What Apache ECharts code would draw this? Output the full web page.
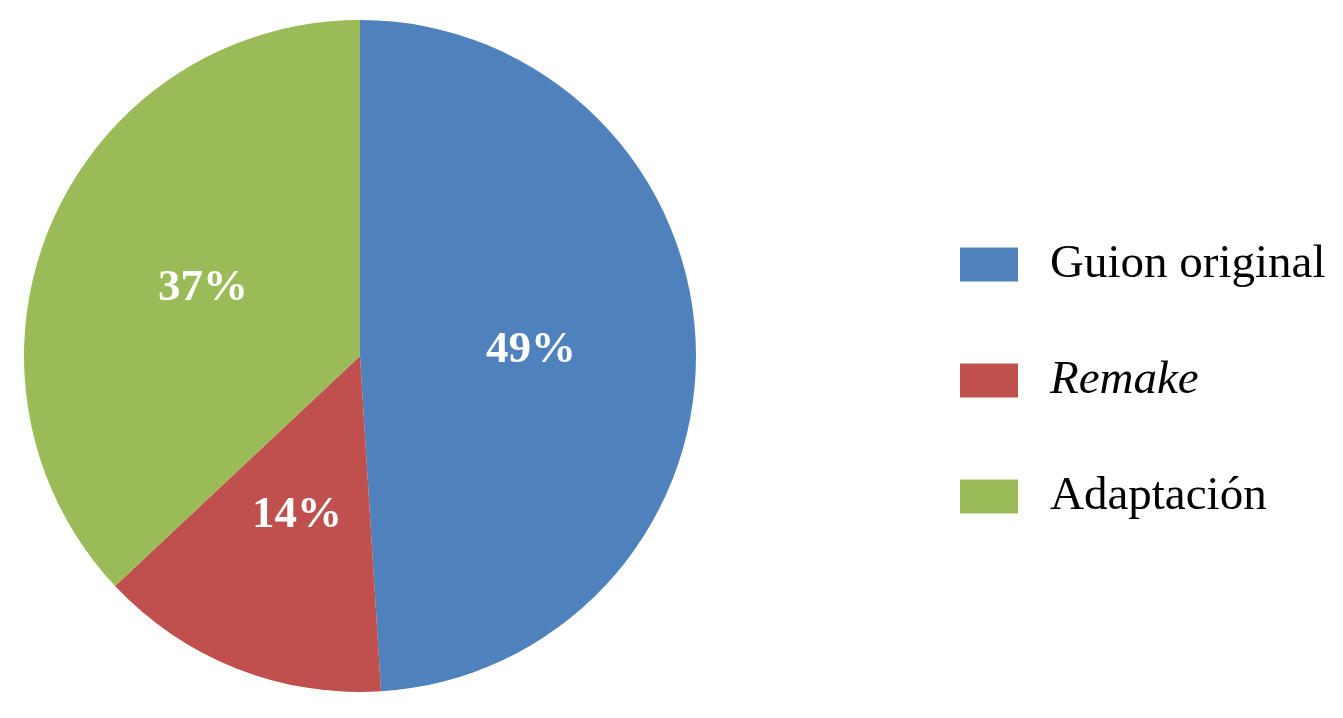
<!DOCTYPE html>
<html>
<head>
<meta charset="utf-8">
<script src="https://cdn.jsdelivr.net/npm/echarts@6/dist/echarts.min.js"></script>
<style>
  html, body { margin: 0; padding: 0; background: #fff; }
  #chart { width: 1343px; height: 718px; }
</style>
</head>
<body>
<div id="chart"></div>
<script>
  const categories = ['Guion original', 'Remake', 'Adaptación'];
  const shares = [49, 14, 37]; // %
  const colors = ['#4F81BD', '#C0504D', '#9BBB59'];

  const chart = echarts.init(document.getElementById('chart'));

  const option = {
    animation: false,
    color: colors,
    legend: {
      orient: 'vertical',
      left: 955,
      top: 236,
      itemWidth: 58,
      itemHeight: 34,
      itemGap: 69,
      icon: 'rect',
      data: categories,
      formatter: (name) => (name === 'Remake' ? '{i|' + name + '}' : name),
      textStyle: {
        fontFamily: 'Liberation Serif',
        fontSize: 47,
        color: '#000',
        lineHeight: 47,
        padding: [0, 0, 0, 27],
        rich: {
          i: {
            fontFamily: 'Liberation Serif',
            fontStyle: 'italic',
            fontSize: 47,
            color: '#000',
            lineHeight: 47,
          },
        },
      },
    },
    series: [
      {
        type: 'pie',
        center: [360, 356],
        radius: 336,
        startAngle: 90,
        clockwise: true,
        data: categories.map((name, i) => ({ name, value: shares[i] })),
        itemStyle: { borderWidth: 0 },
        label: {
          show: true,
          position: 'inside',
          formatter: '{c}%',
          color: '#fff',
          fontFamily: 'Liberation Serif',
          fontWeight: 'bold',
          fontSize: 45,
        },
        labelLine: { show: false },
        emphasis: { disabled: true },
      },
    ],
  };
  chart.setOption(option);
</script>
</body>
</html>
